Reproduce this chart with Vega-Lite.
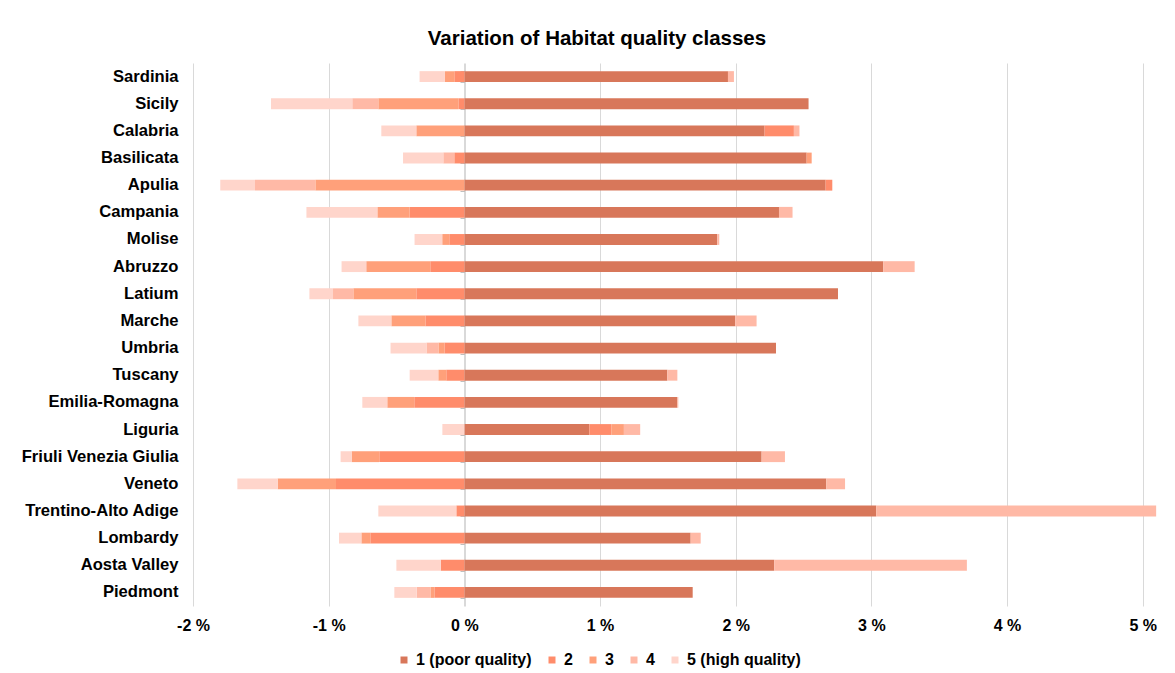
{
  "$schema": "https://vega.github.io/schema/vega-lite/v6.json",
  "autosize": "none",
  "width": 966,
  "height": 543,
  "padding": {"left": 193, "top": 63, "right": 16, "bottom": 67},
  "background": "white",
  "title": {
    "text": "Variation of Habitat quality classes",
    "font": "Liberation Sans",
    "fontSize": 20.5,
    "fontWeight": "bold",
    "color": "#000000",
    "anchor": "middle",
    "dx": -79,
    "offset": 14
  },
  "config": {
    "view": {"stroke": null},
    "font": "Liberation Sans"
  },
  "data": {
    "values": [
      {"region": "Sardinia", "class": "1 (poor quality)", "value": 1.943},
      {"region": "Sardinia", "class": "2", "value": -0.074},
      {"region": "Sardinia", "class": "3", "value": -0.069},
      {"region": "Sardinia", "class": "4", "value": 0.044},
      {"region": "Sardinia", "class": "5 (high quality)", "value": -0.187},
      {"region": "Sicily", "class": "1 (poor quality)", "value": 2.537},
      {"region": "Sicily", "class": "2", "value": -0.044},
      {"region": "Sicily", "class": "3", "value": -0.59},
      {"region": "Sicily", "class": "4", "value": -0.192},
      {"region": "Sicily", "class": "5 (high quality)", "value": -0.599},
      {"region": "Calabria", "class": "1 (poor quality)", "value": 2.213},
      {"region": "Calabria", "class": "2", "value": 0.216},
      {"region": "Calabria", "class": "3", "value": -0.354},
      {"region": "Calabria", "class": "4", "value": 0.041},
      {"region": "Calabria", "class": "5 (high quality)", "value": -0.258},
      {"region": "Basilicata", "class": "1 (poor quality)", "value": 2.523},
      {"region": "Basilicata", "class": "2", "value": -0.074},
      {"region": "Basilicata", "class": "3", "value": 0.037},
      {"region": "Basilicata", "class": "4", "value": -0.081},
      {"region": "Basilicata", "class": "5 (high quality)", "value": -0.297},
      {"region": "Apulia", "class": "1 (poor quality)", "value": 2.663},
      {"region": "Apulia", "class": "2", "value": 0.049},
      {"region": "Apulia", "class": "3", "value": -1.098},
      {"region": "Apulia", "class": "4", "value": -0.445},
      {"region": "Apulia", "class": "5 (high quality)", "value": -0.256},
      {"region": "Campania", "class": "1 (poor quality)", "value": 2.319},
      {"region": "Campania", "class": "2", "value": -0.403},
      {"region": "Campania", "class": "3", "value": -0.238},
      {"region": "Campania", "class": "4", "value": 0.1},
      {"region": "Campania", "class": "5 (high quality)", "value": -0.523},
      {"region": "Molise", "class": "1 (poor quality)", "value": 1.864},
      {"region": "Molise", "class": "2", "value": -0.111},
      {"region": "Molise", "class": "3", "value": -0.052},
      {"region": "Molise", "class": "4", "value": 0.015},
      {"region": "Molise", "class": "5 (high quality)", "value": -0.204},
      {"region": "Abruzzo", "class": "1 (poor quality)", "value": 3.088},
      {"region": "Abruzzo", "class": "2", "value": -0.251},
      {"region": "Abruzzo", "class": "3", "value": -0.472},
      {"region": "Abruzzo", "class": "4", "value": 0.231},
      {"region": "Abruzzo", "class": "5 (high quality)", "value": -0.182},
      {"region": "Latium", "class": "1 (poor quality)", "value": 2.754},
      {"region": "Latium", "class": "2", "value": -0.354},
      {"region": "Latium", "class": "3", "value": -0.464},
      {"region": "Latium", "class": "4", "value": -0.15},
      {"region": "Latium", "class": "5 (high quality)", "value": -0.174},
      {"region": "Marche", "class": "1 (poor quality)", "value": 1.997},
      {"region": "Marche", "class": "2", "value": -0.287},
      {"region": "Marche", "class": "3", "value": -0.251},
      {"region": "Marche", "class": "4", "value": 0.157},
      {"region": "Marche", "class": "5 (high quality)", "value": -0.243},
      {"region": "Umbria", "class": "1 (poor quality)", "value": 2.297},
      {"region": "Umbria", "class": "2", "value": -0.147},
      {"region": "Umbria", "class": "3", "value": -0.044},
      {"region": "Umbria", "class": "4", "value": -0.088},
      {"region": "Umbria", "class": "5 (high quality)", "value": -0.265},
      {"region": "Tuscany", "class": "1 (poor quality)", "value": 1.496},
      {"region": "Tuscany", "class": "2", "value": -0.133},
      {"region": "Tuscany", "class": "3", "value": -0.059},
      {"region": "Tuscany", "class": "4", "value": 0.074},
      {"region": "Tuscany", "class": "5 (high quality)", "value": -0.211},
      {"region": "Emilia-Romagna", "class": "1 (poor quality)", "value": 1.57},
      {"region": "Emilia-Romagna", "class": "2", "value": -0.369},
      {"region": "Emilia-Romagna", "class": "3", "value": -0.199},
      {"region": "Emilia-Romagna", "class": "4", "value": 0.007},
      {"region": "Emilia-Romagna", "class": "5 (high quality)", "value": -0.184},
      {"region": "Liguria", "class": "1 (poor quality)", "value": 0.921},
      {"region": "Liguria", "class": "2", "value": 0.162},
      {"region": "Liguria", "class": "3", "value": 0.093},
      {"region": "Liguria", "class": "4", "value": 0.12},
      {"region": "Liguria", "class": "5 (high quality)", "value": -0.162},
      {"region": "Friuli Venezia Giulia", "class": "1 (poor quality)", "value": 2.191},
      {"region": "Friuli Venezia Giulia", "class": "2", "value": -0.627},
      {"region": "Friuli Venezia Giulia", "class": "3", "value": -0.204},
      {"region": "Friuli Venezia Giulia", "class": "4", "value": 0.172},
      {"region": "Friuli Venezia Giulia", "class": "5 (high quality)", "value": -0.081},
      {"region": "Veneto", "class": "1 (poor quality)", "value": 2.668},
      {"region": "Veneto", "class": "2", "value": -0.946},
      {"region": "Veneto", "class": "3", "value": -0.43},
      {"region": "Veneto", "class": "4", "value": 0.138},
      {"region": "Veneto", "class": "5 (high quality)", "value": -0.297},
      {"region": "Trentino-Alto Adige", "class": "1 (poor quality)", "value": 3.036},
      {"region": "Trentino-Alto Adige", "class": "2", "value": -0.059},
      {"region": "Trentino-Alto Adige", "class": "4", "value": 2.063},
      {"region": "Trentino-Alto Adige", "class": "5 (high quality)", "value": -0.575},
      {"region": "Lombardy", "class": "1 (poor quality)", "value": 1.668},
      {"region": "Lombardy", "class": "2", "value": -0.693},
      {"region": "Lombardy", "class": "3", "value": -0.066},
      {"region": "Lombardy", "class": "4", "value": 0.074},
      {"region": "Lombardy", "class": "5 (high quality)", "value": -0.165},
      {"region": "Aosta Valley", "class": "1 (poor quality)", "value": 2.284},
      {"region": "Aosta Valley", "class": "2", "value": -0.174},
      {"region": "Aosta Valley", "class": "4", "value": 1.42},
      {"region": "Aosta Valley", "class": "5 (high quality)", "value": -0.327},
      {"region": "Piedmont", "class": "1 (poor quality)", "value": 1.683},
      {"region": "Piedmont", "class": "2", "value": -0.221},
      {"region": "Piedmont", "class": "3", "value": -0.029},
      {"region": "Piedmont", "class": "4", "value": -0.101},
      {"region": "Piedmont", "class": "5 (high quality)", "value": -0.165}
    ]
  },
  "layer": [
    {
      "mark": {"type": "bar"},
      "encoding": {
        "y": {
          "field": "region",
          "type": "nominal",
          "sort": ["Sardinia", "Sicily", "Calabria", "Basilicata", "Apulia", "Campania", "Molise", "Abruzzo", "Latium", "Marche", "Umbria", "Tuscany", "Emilia-Romagna", "Liguria", "Friuli Venezia Giulia", "Veneto", "Trentino-Alto Adige", "Lombardy", "Aosta Valley", "Piedmont"],
          "scale": {"paddingInner": 0.6, "paddingOuter": 0.3},
          "axis": {
            "title": null,
            "ticks": false,
            "domain": false,
            "grid": false,
            "labelPadding": 15,
            "labelFont": "Liberation Sans",
            "labelFontSize": 16.6,
            "labelFontWeight": "bold",
            "labelColor": "#000000"
          }
        },
        "x": {
          "field": "value",
          "type": "quantitative",
          "stack": "zero",
          "scale": {"domain": [-2, 5.12], "nice": false, "zero": false},
          "axis": {
            "title": null,
            "values": [-2, -1, 0, 1, 2, 3, 4, 5],
            "labelExpr": "datum.value + ' %'",
            "ticks": false,
            "domain": false,
            "grid": true,
            "gridColor": "#d9d9d9",
            "gridWidth": 1,
            "labelPadding": 11,
            "labelFont": "Liberation Sans",
            "labelFontSize": 16,
            "labelFontWeight": "bold",
            "labelColor": "#000000",
            "labelFlush": false
          }
        },
        "color": {
          "field": "class",
          "type": "nominal",
          "scale": {
            "domain": ["1 (poor quality)", "2", "3", "4", "5 (high quality)"],
            "range": ["#D8775A", "#FF8C6B", "#FFA07A", "#FFB9A6", "#FFD5CB"]
          },
          "legend": {
            "title": null,
            "orient": "none",
            "direction": "horizontal",
            "legendX": 203,
            "legendY": 589,
            "symbolType": "square",
            "symbolSize": 49,
            "symbolStrokeWidth": 0,
            "labelOffset": 4,
            "columnPadding": 12,
            "labelFont": "Liberation Sans",
            "labelFontSize": 16,
            "labelFontWeight": "bold",
            "labelColor": "#000000"
          }
        },
        "order": {"field": "class", "type": "nominal", "sort": "ascending"}
      }
    },
    {
      "mark": {"type": "bar", "opacity": 0},
      "encoding": {
        "y": {
          "field": "region",
          "type": "nominal",
          "sort": ["Sardinia", "Sicily", "Calabria", "Basilicata", "Apulia", "Campania", "Molise", "Abruzzo", "Latium", "Marche", "Umbria", "Tuscany", "Emilia-Romagna", "Liguria", "Friuli Venezia Giulia", "Veneto", "Trentino-Alto Adige", "Lombardy", "Aosta Valley", "Piedmont"],
          "axis": {
            "orient": "left",
            "offset": -272,
            "title": null,
            "labels": false,
            "ticks": true,
            "tickBand": "extent",
            "tickSize": 5,
            "tickColor": "#bfbfbf",
            "domain": true,
            "domainColor": "#d9d9d9",
            "grid": false
          }
        },
        "x": {"datum": 0, "type": "quantitative"}
      }
    }
  ],
  "resolve": {"axis": {"y": "independent"}}
}
